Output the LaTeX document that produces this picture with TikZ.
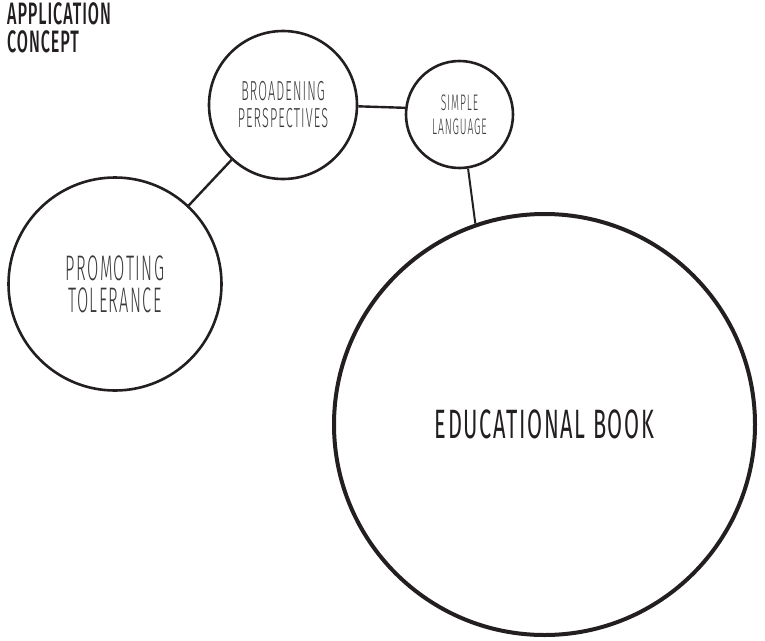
\documentclass[tikz,border=0pt]{standalone}
\usepackage{fontspec}
\newfontfamily\headfont{Fira Sans Medium}[FakeStretch=0.52,LetterSpace=3]
\newfontfamily\bookfont{Fira Sans}[FakeStretch=0.53,LetterSpace=4]
\newfontfamily\thinfont{Fira Sans Light}[FakeStretch=0.46,LetterSpace=4]
\usetikzlibrary{positioning}

\definecolor{ink}{HTML}{231F20}
\definecolor{label}{HTML}{3A3839}

\begin{document}
\begin{tikzpicture}[x=1pt,y=-1pt,
  bubble/.style={circle,draw=ink,inner sep=0pt,align=center,text=label},
  link/.style={draw=ink,line width=2.4pt}]
  \useasboundingbox (0,0) rectangle (765,640);

  % heading in the corner
  \node[anchor=north west,inner sep=0pt,align=left,text=ink,
        font=\headfont\fontsize{31}{28}\selectfont] (heading) at (7,2) {APPLICATION\\CONCEPT};

  % the four bubbles
  \node[bubble,minimum size=421pt,line width=4pt,text=ink,
        font=\bookfont\fontsize{41}{40}\selectfont] (edubook) at (544.5,424.5) {EDUCATIONAL BOOK};
  \node[bubble,minimum size=213pt,line width=2.6pt,
        font=\thinfont\fontsize{35.5}{32}\selectfont] (tolerance) at (115,284) {PROMOTING\\TOLERANCE};
  \node[bubble,minimum size=148pt,line width=2.6pt,
        font=\thinfont\fontsize{27.5}{27}\selectfont] (broaden) at (283,105) {BROADENING\\PERSPECTIVES};
  \node[bubble,minimum size=107pt,line width=2.6pt,
        font=\thinfont\fontsize{22.5}{24}\selectfont] (simple) at (459.5,114.5) {SIMPLE\\LANGUAGE};

  % links between them
  \draw[link] (tolerance) -- (broaden);
  \draw[link] (broaden.-1) -- (simple.173);
  \draw[link,line width=2pt] (simple.-81) -- (edubook.109);
\end{tikzpicture}
\end{document}
